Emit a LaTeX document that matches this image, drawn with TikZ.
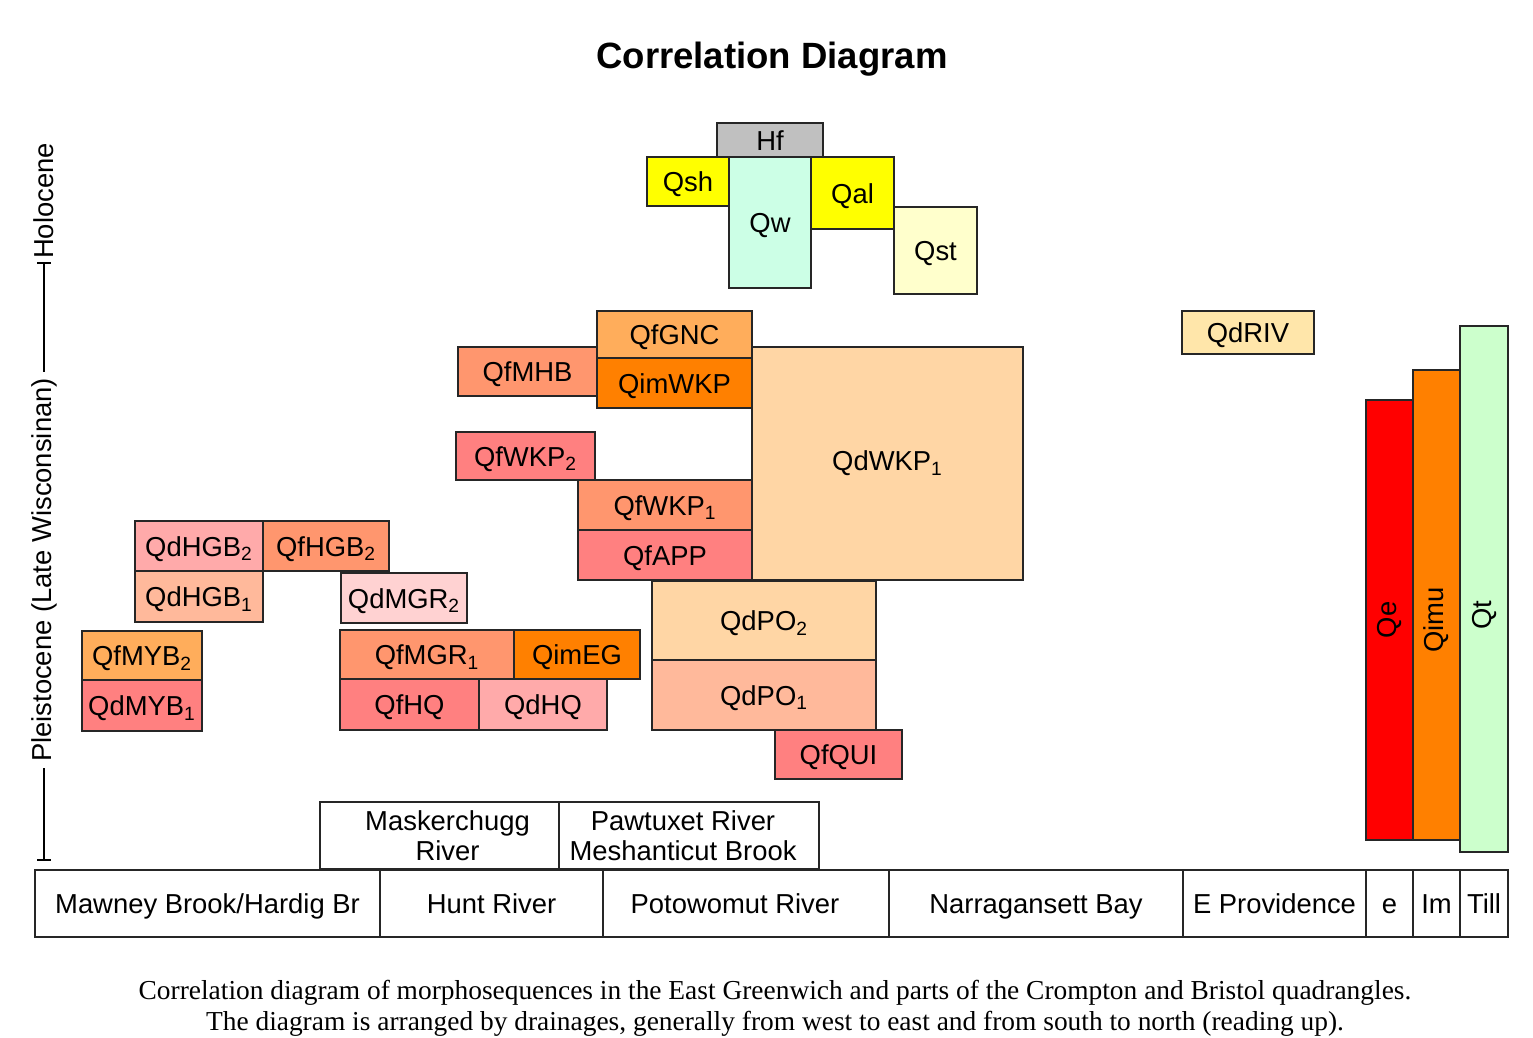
\documentclass[tikz,border=0pt]{standalone}
\usepackage{fontspec}
\setmainfont{Liberation Sans}
\newfontfamily\captionfont{Liberation Serif}

\definecolor{hfgray}{RGB}{192,192,192}
\definecolor{qyellow}{RGB}{255,255,0}
\definecolor{qwmint}{RGB}{204,255,230}
\definecolor{qstcream}{RGB}{255,255,204}
\definecolor{ltorange}{RGB}{255,173,91}
\definecolor{dkorange}{RGB}{255,128,0}
\definecolor{salmon}{RGB}{255,150,110}
\definecolor{rose}{RGB}{255,128,128}
\definecolor{peach}{RGB}{255,214,165}
\definecolor{ltsalmon}{RGB}{255,185,155}
\definecolor{pink}{RGB}{255,170,170}
\definecolor{palepink}{RGB}{255,210,210}
\definecolor{buff}{RGB}{255,230,170}
\definecolor{tillgreen}{RGB}{204,255,204}

\begin{document}
\begin{tikzpicture}[x=0.02cm,y=-0.02cm,
    unit/.style={draw=black!85, line width=1.1pt},
    tag/.style={text height=14.2pt, text depth=2.5pt},
    every node/.style={font=\fontsize{15.6}{17}\selectfont}]

    \useasboundingbox (0,0) rectangle (1533,1037);

    %%% TITLE
    \node[font=\fontsize{20.8}{24}\selectfont\bfseries] (title) at (772,59) {Correlation Diagram};

    %%% TIME SCALE
    \node[rotate=90] (pleist) at (44,570) {Pleistocene (Late Wisconsinan)};
    \node[rotate=90] (holo) at (44,201) {Holocene};
    \coordinate (base) at (44,860);
    \coordinate (bound) at (44,263);
    \draw[line width=1.1pt] (base) -- (pleist.west);
    \draw[line width=1.1pt] (pleist.east) -- (bound);
    \draw[line width=1.1pt] (base) ++(-7,0) -- ++(14,0);
    \draw[line width=1.1pt] (bound) ++(-7,0) -- ++(14,0);

    %%% HOLOCENE UNITS
    \draw[unit, fill=hfgray] (717,123) rectangle (823,157) node[midway, tag] (hf) {Hf};
    \draw[unit, fill=qyellow] (647,157) rectangle (729,206) node[midway, tag] (qsh) {Qsh};
    \draw[unit, fill=qyellow] (811,157) rectangle (894,229) node[midway, tag] (qal) {Qal};
    \draw[unit, fill=qwmint] (729,157) rectangle (811,288) node[midway, tag] (qw) {Qw};
    \draw[unit, fill=qstcream] (894,207) rectangle (977,294) node[midway, tag] (qst) {Qst};

    %%% MIDDLE UNITS
    \draw[unit, fill=peach] (752,347) rectangle (1023,580) node[midway, tag, yshift=0.06cm] (qdwkp1) {QdWKP\textsubscript{1}};
    \draw[unit, fill=salmon] (458,347) rectangle (597,396) node[midway, tag] (qfmhb) {QfMHB};
    \draw[unit, fill=ltorange] (597,311) rectangle (752,358) node[midway, tag] (qfgnc) {QfGNC};
    \draw[unit, fill=dkorange] (597,358) rectangle (752,408) node[midway, tag] (qimwkp) {QimWKP};
    \draw[unit, fill=rose] (456,432) rectangle (595,480) node[midway, tag] (qfwkp2) {QfWKP\textsubscript{2}};
    \draw[unit, fill=salmon] (578,480) rectangle (752,530) node[midway, tag] (qfwkp1) {QfWKP\textsubscript{1}};
    \draw[unit, fill=rose] (578,530) rectangle (752,580) node[midway, tag] (qfapp) {QfAPP};
    \draw[unit, fill=buff] (1182,311) rectangle (1314,354) node[midway, tag] (qdriv) {QdRIV};

    % Potowomut
    \draw[unit, fill=peach] (652,581) rectangle (876,660) node[midway, tag] (qdpo2) {QdPO\textsubscript{2}};
    \draw[unit, fill=ltsalmon] (652,660) rectangle (876,730) node[midway, tag] (qdpo1) {QdPO\textsubscript{1}};
    \draw[unit, fill=rose] (775,730) rectangle (902,779) node[midway, tag] (qfqui) {QfQUI};

    %%% LEFT UNITS
    \draw[unit, fill=pink] (135,521) rectangle (263,571) node[midway, tag] (qdhgb2) {QdHGB\textsubscript{2}};
    \draw[unit, fill=salmon] (263,521) rectangle (389,571) node[midway, tag] (qfhgb2) {QfHGB\textsubscript{2}};
    \draw[unit, fill=ltsalmon] (135,571) rectangle (263,622) node[midway, tag] (qdhgb1) {QdHGB\textsubscript{1}};
    \draw[unit, fill=palepink] (341,573) rectangle (467,623) node[midway, tag] (qdmgr2) {QdMGR\textsubscript{2}};
    \draw[unit, fill=ltorange] (82,631) rectangle (202,680) node[midway, tag] (qfmyb2) {QfMYB\textsubscript{2}};
    \draw[unit, fill=rose] (82,680) rectangle (202,731) node[midway, tag] (qdmyb1) {QdMYB\textsubscript{1}};
    \draw[unit, fill=salmon] (340,630) rectangle (514,679) node[midway, tag] (qfmgr1) {QfMGR\textsubscript{1}};
    \draw[unit, fill=dkorange] (514,630) rectangle (640,679) node[midway, tag] (qimeg) {QimEG};
    \draw[unit, fill=rose] (340,679) rectangle (479,730) node[midway, tag] (qfhq) {QfHQ};
    \draw[unit, fill=pink] (479,679) rectangle (607,730) node[midway, tag] (qdhq) {QdHQ};

    %%% RIGHT COLUMNS
    \draw[unit, fill=red] (1366,400) rectangle (1413,840);
    \draw[unit, fill=dkorange] (1413,370) rectangle (1460,840);
    \draw[unit, fill=tillgreen] (1460,326) rectangle (1508,852);
    \node[rotate=90] (qe) at (1389.5,620) {Qe};
    \node[rotate=90] (qimu) at (1436.5,620) {Qimu};
    \node[rotate=90] (qt) at (1484,615) {Qt};

    %%% DRAINAGES
    \draw[unit] (320,802) rectangle (559,869) node[midway, align=center, xshift=0.16cm] (maskerchugg) {Maskerchugg\\River};
    \draw[unit] (559,802) rectangle (819,869) node[midway, align=center, xshift=-0.12cm] (pawtuxet) {Pawtuxet River\\Meshanticut Brook};

    \draw[unit] (35,870) rectangle (380,937) node[midway, tag] (mawney) {Mawney Brook/Hardig Br};
    \draw[unit] (380,870) rectangle (603,937) node[midway, tag] (hunt) {Hunt River};
    \draw[unit] (603,870) rectangle (889,937) node[midway, tag, xshift=-0.22cm] (potowomut) {Potowomut River};
    \draw[unit] (889,870) rectangle (1183,937) node[midway, tag] (narragansett) {Narragansett Bay};
    \draw[unit] (1183,870) rectangle (1366,937) node[midway, tag] (eprov) {E Providence};
    \foreach \xa/\xb/\nm/\lab in {1366/1413/e/e, 1413/1460/im/Im, 1460/1508/till/Till} {
        \draw[unit] (\xa,870) rectangle (\xb,937) node[midway, tag] (\nm) {\lab};
    };

    %%% CAPTION
    \node[font=\captionfont\fontsize{15.6}{17.6}\selectfont, align=center] (caption) at (775,1008)
        {Correlation diagram of morphosequences in the East Greenwich and parts of the Crompton and Bristol quadrangles.\\
         The diagram is arranged by drainages, generally from west to east and from south to north (reading up).};
\end{tikzpicture}
\end{document}
